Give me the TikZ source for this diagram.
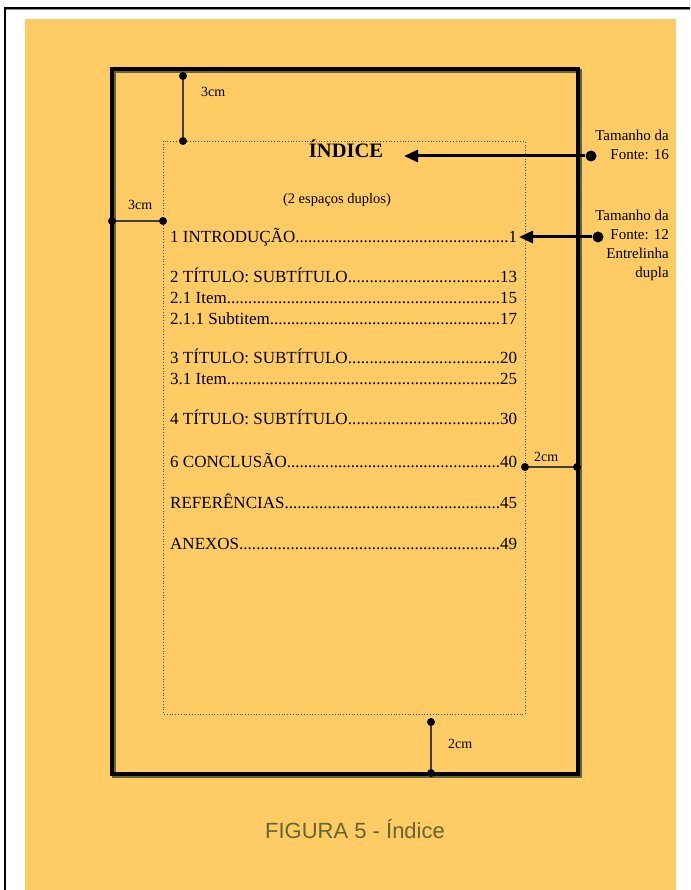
\documentclass[tikz,border=0pt]{standalone}
\usepackage{fontspec}
\setmainfont{Liberation Serif}
\newfontfamily\captionfont{Liberation Sans}
\usetikzlibrary{arrows.meta, positioning}
\definecolor{folha}{HTML}{FECB65}
\definecolor{sombra}{RGB}{102,98,58}
\definecolor{legenda}{RGB}{104,100,50}
\newcommand{\pontos}{\xleaders\hbox{.}\hfill}
\newcommand{\linha}[2]{\makebox[347pt][l]{#1\pontos#2}}

\begin{document}
\begin{tikzpicture}[
  x=1pt, y=-1pt,
  every node/.style={inner sep=0pt},
  item/.style={anchor=base west, font=\fontsize{17}{20}\selectfont},
  medida/.style={font=\fontsize{14}{16}\selectfont, anchor=base west},
  nota/.style={font=\fontsize{15}{19}\selectfont, align=right, anchor=north east},
  ponto/.style={circle, fill=black, minimum size=8pt},
  bola/.style={circle, fill=black, minimum size=11pt},
  cota/.style={line width=1.2pt, black!75},
  seta/.style={line width=3pt, -{Triangle[length=14pt, width=12pt]}}
]
\useasboundingbox (0,0) rectangle (690,890);

% Background
\fill[folha] (25,19) rectangle (676,890);
\draw[black!45, line width=1pt] (5,9.5) -- (690,9.5);
\draw[black, line width=2pt] (5,8) -- (690,8);
\draw[black, line width=2.5pt] (5,7) -- (5,890);

% Page frame
\draw[sombra, line width=3.5pt] (114,71) rectangle (580,776);
\draw[black, line width=3.5pt] (112,69) rectangle (578,774);
\draw[black!70, line width=0.8pt, dotted] (163,141) rectangle (525,714);

% Title and contents
\node[anchor=base, font=\fontsize{20.5}{24}\selectfont\bfseries] (titulo) at (346,158) {ÍNDICE};
\node[anchor=base, font=\fontsize{14.5}{17}\selectfont] (espacos) at (337,204) {(2 espaços duplos)};

\node[item] (intro) at (170,243) {\linha{1 INTRODUÇÃO}{1}};
\node[item] (tit2)  at (170,283) {\linha{2 TÍTULO: SUBTÍTULO}{13}};
\node[item] (it21)  at (170,303) {\linha{2.1 Item}{15}};
\node[item] (sub211) at (170,324) {\linha{2.1.1 Subtitem}{17}};
\node[item] (tit3)  at (170,363) {\linha{3 TÍTULO: SUBTÍTULO}{20}};
\node[item] (it31)  at (170,384) {\linha{3.1 Item}{25}};
\node[item] (tit4)  at (170,424) {\linha{4 TÍTULO: SUBTÍTULO}{30}};
\node[item] (concl) at (170,467) {\linha{6 CONCLUSÃO}{40}};
\node[item] (refs)  at (170,508) {\linha{REFERÊNCIAS}{45}};
\node[item] (anexos) at (170,549) {\linha{ANEXOS}{49}};

% Margins
\node[ponto] (sup1) at (183,76) {};
\node[ponto] (sup2) at (183,141) {};
\draw[cota] (sup1) -- (sup2);
\node[medida] (msup) at (201,97) {3cm};

\node[ponto] (esq1) at (112,221) {};
\node[ponto] (esq2) at (163,221) {};
\draw[cota] (esq1) -- (esq2);
\node[medida] (mesq) at (128,210) {3cm};

\node[ponto] (dir1) at (525,467) {};
\node[ponto] (dir2) at (577,467) {};
\draw[cota] (dir1) -- (dir2);
\node[medida] (mdir) at (534,461) {2cm};

\node[ponto] (inf1) at (431,722) {};
\node[ponto] (inf2) at (431,773) {};
\draw[cota] (inf1) -- (inf2);
\node[medida] (minf) at (448,748) {2cm};

% Font notes
\node[bola] (b16) at (591,156) {};
\coordinate (p16) at (404,156);
\draw[seta] (b16) -- (p16);
\node[nota] (n16) at (669,129.5) {Tamanho da\\Fonte: 16};

\node[bola] (b12) at (598,237) {};
\coordinate (p12) at (519,237);
\draw[seta] (b12) -- (p12);
\node[nota] (n12) at (669,209.5) {Tamanho da\\Fonte: 12\\Entrelinha\\dupla};

% Caption
\node[anchor=base, font=\captionfont\fontsize{22}{26}\selectfont, text=legenda] (legenda) at (355,838) {FIGURA 5 - Índice};
\end{tikzpicture}
\end{document}
